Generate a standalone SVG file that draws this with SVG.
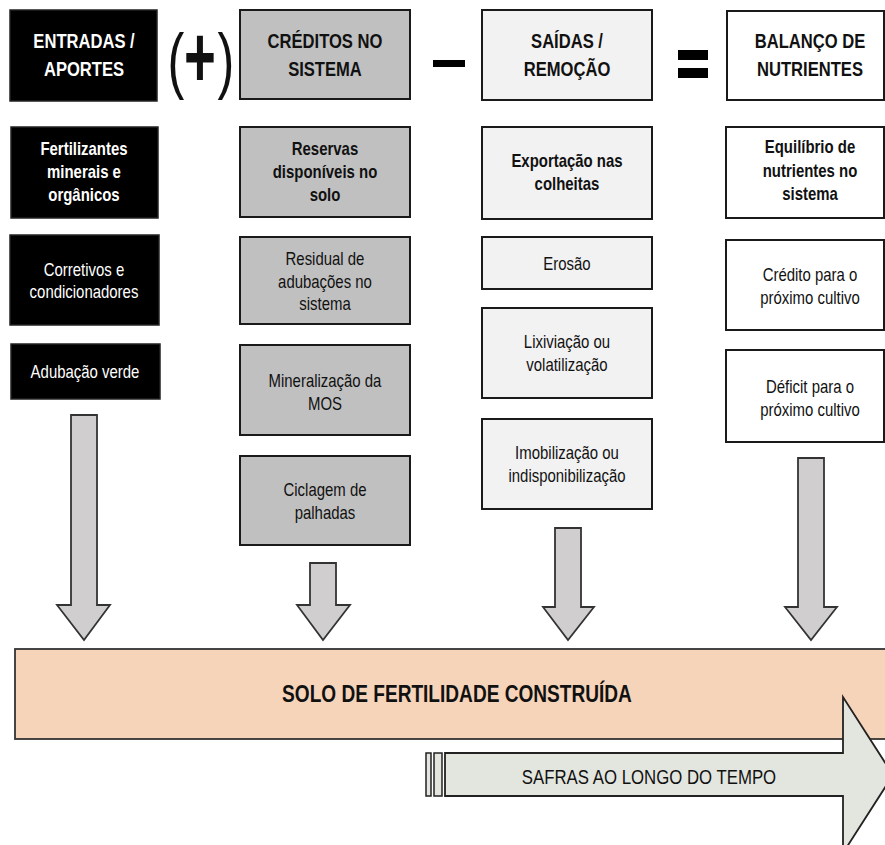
<svg xmlns="http://www.w3.org/2000/svg" width="885" height="845" viewBox="0 0 885 845">
<style>
text{font-family:"Liberation Sans",Arial,sans-serif;text-anchor:middle;fill:#111}
.h{font-size:21px;font-weight:bold}
.t{font-size:18px}
.b{font-weight:bold}
.w{fill:#fff}
.k{fill:#000;stroke:#222;stroke-width:1.5}
.g{fill:#c0c0c0;stroke:#1a1a1a;stroke-width:2}
.l{fill:#f2f2f2;stroke:#1a1a1a;stroke-width:2}
.n{fill:#fff;stroke:#1a1a1a;stroke-width:2}
.ar{fill:#d0cece;stroke:#333;stroke-width:1.8}
</style>
<rect width="885" height="845" fill="#fff"/>

<!-- headers -->
<g id="h-entradas"><rect class="k" x="10" y="10" width="147" height="91"/><g transform="matrix(0.79,0,0,1,17.64,0)"><text class="h w" x="84" y="48">ENTRADAS  /</text><text class="h w" x="84" y="76">APORTES</text></g></g>
<g id="op-plus">
<text x="176" y="85" font-size="72" transform="translate(176,0) scale(0.7,1) translate(-176,0)">(</text>
<text x="200" y="87" font-size="88" font-weight="bold" transform="translate(200,0) scale(0.62,1) translate(-200,0)">+</text>
<text x="226" y="85" font-size="72" transform="translate(226,0) scale(0.7,1) translate(-226,0)">)</text>
</g>
<g id="h-creditos"><rect class="g" x="240" y="10" width="170" height="89"/><g transform="matrix(0.79,0,0,1,68.25,0)"><text class="h" x="325" y="48">CRÉDITOS  NO</text><text class="h" x="325" y="76">SISTEMA</text></g></g>
<g id="op-minus"><rect x="433" y="60" width="32" height="7" fill="#000"/></g>
<g id="h-saidas"><rect class="l" x="482" y="10" width="170" height="90"/><g transform="matrix(0.79,0,0,1,119.07,0)"><text class="h" x="567" y="48">SAÍDAS  /</text><text class="h" x="567" y="76">REMOÇÃO</text></g></g>
<g id="op-equals"><rect x="678" y="50" width="30" height="10" fill="#000"/><rect x="678" y="68" width="30" height="10" fill="#000"/></g>
<g id="h-balanco"><rect class="n" x="727" y="11" width="157" height="89"/><g transform="matrix(0.79,0,0,1,170.1,0)"><text class="h" x="810" y="48">BALANÇO  DE</text><text class="h" x="810" y="76">NUTRIENTES</text></g></g>

<!-- column 1 -->
<g id="fertilizantes"><rect class="k" x="11" y="127" width="147" height="91"/><g transform="matrix(0.83,0,0,1,14.28,0)"><text class="t b w" x="84" y="155">Fertilizantes</text><text class="t b w" x="84" y="178">minerais e</text><text class="t b w" x="84" y="201">orgânicos</text></g></g>
<g id="corretivos"><rect class="k" x="10" y="235" width="149" height="90"/><g transform="matrix(0.83,0,0,1,14.28,0)"><text class="t w" x="84" y="276">Corretivos e</text><text class="t w" x="84" y="298">condicionadores</text></g></g>
<g id="adubacao"><rect class="k" x="11" y="344" width="149" height="55"/><g transform="matrix(0.83,0,0,1,14.45,0)"><text class="t w" x="85" y="378">Adubação verde</text></g></g>

<!-- column 2 -->
<g id="reservas"><rect class="g" x="240" y="127" width="170" height="90"/><g transform="matrix(0.83,0,0,1,55.25,0)"><text class="t b" x="325" y="155">Reservas</text><text class="t b" x="325" y="178">disponíveis no</text><text class="t b" x="325" y="201">solo</text></g></g>
<g id="residual"><rect class="g" x="240" y="237" width="170" height="87"/><g transform="matrix(0.83,0,0,1,55.25,0)"><text class="t" x="325" y="265">Residual de</text><text class="t" x="325" y="288">adubações no</text><text class="t" x="325" y="310">sistema</text></g></g>
<g id="mineralizacao"><rect class="g" x="240" y="345" width="170" height="90"/><g transform="matrix(0.83,0,0,1,55.25,0)"><text class="t" x="325" y="387">Mineralização da</text><text class="t" x="325" y="410">MOS</text></g></g>
<g id="ciclagem"><rect class="g" x="240" y="456" width="170" height="89"/><g transform="matrix(0.83,0,0,1,55.25,0)"><text class="t" x="325" y="496">Ciclagem de</text><text class="t" x="325" y="519">palhadas</text></g></g>

<!-- column 3 -->
<g id="exportacao"><rect class="l" x="482" y="127" width="170" height="92"/><g transform="matrix(0.83,0,0,1,96.39,0)"><text class="t b" x="567" y="167">Exportação nas</text><text class="t b" x="567" y="190">colheitas</text></g></g>
<g id="erosao"><rect class="l" x="482" y="237" width="170" height="52"/><g transform="matrix(0.83,0,0,1,96.39,0)"><text class="t" x="567" y="270">Erosão</text></g></g>
<g id="lixiviacao"><rect class="l" x="482" y="308" width="170" height="90"/><g transform="matrix(0.83,0,0,1,96.39,0)"><text class="t" x="567" y="348">Lixiviação ou</text><text class="t" x="567" y="371">volatilização</text></g></g>
<g id="imobilizacao"><rect class="l" x="482" y="419" width="170" height="90"/><g transform="matrix(0.83,0,0,1,96.39,0)"><text class="t" x="567" y="459">Imobilização ou</text><text class="t" x="567" y="482">indisponibilização</text></g></g>

<!-- column 4 -->
<g id="equilibrio"><rect class="n" x="726" y="127" width="158" height="91"/><g transform="matrix(0.83,0,0,1,137.7,0)"><text class="t b" x="810" y="153">Equilíbrio de</text><text class="t b" x="810" y="177">nutrientes no</text><text class="t b" x="810" y="200">sistema</text></g></g>
<g id="credito"><rect class="n" x="726" y="240" width="158" height="90"/><g transform="matrix(0.83,0,0,1,137.7,0)"><text class="t" x="810" y="281">Crédito para o</text><text class="t" x="810" y="304">próximo cultivo</text></g></g>
<g id="deficit"><rect class="n" x="726" y="350" width="158" height="92"/><g transform="matrix(0.83,0,0,1,137.7,0)"><text class="t" x="810" y="393">Déficit para o</text><text class="t" x="810" y="416">próximo cultivo</text></g></g>

<!-- connectors -->
<g id="connectors">
<polygon class="ar" points="71,415 97,415 97,605 110,605 84,640 57,605 71,605"/>
<polygon class="ar" points="310,563 336,563 336,605 350,605 323,640 297,605 310,605"/>
<polygon class="ar" points="555,528 581,528 581,607 594,607 568,640 543,607 555,607"/>
<polygon class="ar" points="798,458 824,458 824,607 837,607 811,640 785,607 798,607"/>
</g>

<!-- soil bar -->
<g id="solo"><rect x="15" y="649" width="880" height="90" fill="#f6d4b9" stroke="#333" stroke-width="1.8"/><g transform="matrix(0.83,0,0,1,77.69,0)"><text x="457" y="702" font-size="23" font-weight="bold">SOLO DE FERTILIDADE CONSTRUÍDA</text></g></g>

<!-- time arrow -->
<g id="safras">
<rect x="426" y="753" width="5" height="43" fill="#e3e6de" stroke="#222" stroke-width="1.5"/>
<rect x="434" y="753" width="8" height="43" fill="#e3e6de" stroke="#222" stroke-width="1.5"/>
<polygon points="445,753 843,753 843,697 893,775 843,853 843,796 445,796" fill="#e3e6de" stroke="#222" stroke-width="1.8"/>
<g transform="matrix(0.84,0,0,1,103.84,0)"><text x="649" y="784" font-size="20">SAFRAS  AO LONGO DO TEMPO</text></g>
</g>
</svg>
